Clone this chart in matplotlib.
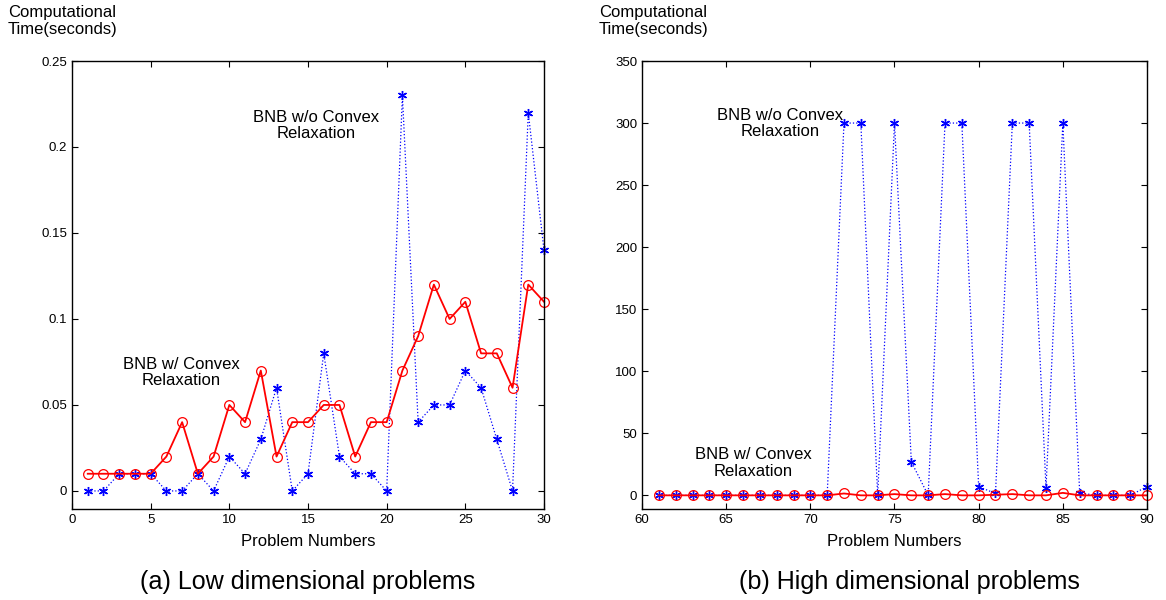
import matplotlib
matplotlib.use("Agg")
import matplotlib.pyplot as plt

plt.rcParams['font.family'] = ['Liberation Sans', 'DejaVu Sans']

# Low dimensional problems
x_low = list(range(1, 31))
with_cr_low = [0.01, 0.01, 0.01, 0.01, 0.01, 0.02, 0.04, 0.01, 0.02, 0.05,
               0.04, 0.07, 0.02, 0.04, 0.04, 0.05, 0.05, 0.02, 0.04, 0.04,
               0.07, 0.09, 0.12, 0.10, 0.11, 0.08, 0.08, 0.06, 0.12, 0.11]
without_cr_low = [0.0, 0.0, 0.01, 0.01, 0.01, 0.0, 0.0, 0.01, 0.0, 0.02,
                  0.01, 0.03, 0.06, 0.0, 0.01, 0.08, 0.02, 0.01, 0.01, 0.0,
                  0.23, 0.04, 0.05, 0.05, 0.07, 0.06, 0.03, 0.0, 0.22, 0.14]

# High dimensional problems
x_high = list(range(61, 91))
with_cr_high = [0, 0, 0, 0, 0, 0, 0, 0, 0, 0,
                0, 1.5, 0, 0, 1, 0, 0, 1, 0, 0,
                0.5, 1, 0, 0, 2, 0, 0, 0, 0, 0]
without_cr_high = [0, 0, 0, 0, 0, 0, 0, 0, 0, 0,
                   0, 300, 300, 0, 300, 27, 0, 300, 300, 7,
                   1.5, 300, 300, 6, 300, 2, 0, 0, 0, 7]

W, H = 1166, 600
fig = plt.figure(figsize=(W / 100, H / 100), dpi=100)

def ax_rect(x0, y0, x1, y1):
    return [x0 / W, 1 - y1 / H, (x1 - x0) / W, (y1 - y0) / H]

ax1 = fig.add_axes(ax_rect(72, 61, 544, 509))
ax2 = fig.add_axes(ax_rect(642, 61, 1147, 509))

star = (6, 2, 0)
for ax, x, wo, w in [(ax1, x_low, without_cr_low, with_cr_low),
                     (ax2, x_high, without_cr_high, with_cr_high)]:
    ax.plot(x, wo, color='blue', linestyle=':', linewidth=0.9,
            marker=star, markersize=6.5, markeredgewidth=1.0, clip_on=False)
    ax.plot(x, w, color='red', linestyle='-', linewidth=1.3,
            marker='o', markersize=7, markerfacecolor='none',
            markeredgewidth=0.9, clip_on=False)
    ax.tick_params(direction='in', top=True, right=True, labelsize=9.5,
                   length=4, width=0.8, pad=3.5)
    for s in ax.spines.values():
        s.set_linewidth(1.0)
    ax.set_xlabel('Problem Numbers', fontsize=12, labelpad=6)

ax1.set_xlim(0, 30)
ax1.set_ylim(-0.0105, 0.25)
ax1.set_xticks([0, 5, 10, 15, 20, 25, 30])
ax1.set_yticks([0, 0.05, 0.1, 0.15, 0.2, 0.25])
ax1.set_yticklabels(['0', '0.05', '0.1', '0.15', '0.2', '0.25'])

ax2.set_xlim(60, 90)
ax2.set_ylim(-11, 350)
ax2.set_xticks([60, 65, 70, 75, 80, 85, 90])
ax2.set_yticks([0, 50, 100, 150, 200, 250, 300, 350])

fs = 12
ax1.text(15.5, 0.2125, 'BNB w/o Convex\nRelaxation', ha='center', va='center', fontsize=fs, linespacing=1.1)
ax1.text(6.93, 0.069, 'BNB w/ Convex\nRelaxation', ha='center', va='center', fontsize=fs, linespacing=1.1)
ax2.text(68.2, 299.6, 'BNB w/o Convex\nRelaxation', ha='center', va='center', fontsize=fs, linespacing=1.1)
ax2.text(66.6, 26, 'BNB w/ Convex\nRelaxation', ha='center', va='center', fontsize=fs, linespacing=1.1)

fig.text(8 / W, 1 - 21 / H, 'Computational\nTime(seconds)', ha='left', va='center', fontsize=fs, linespacing=1.1)
fig.text(599 / W, 1 - 21 / H, 'Computational\nTime(seconds)', ha='left', va='center', fontsize=fs, linespacing=1.1)

fig.text(308 / W, 1 - 582 / H, '(a) Low dimensional problems', ha='center', va='center', fontsize=18.1)
fig.text(909 / W, 1 - 582 / H, '(b) High dimensional problems', ha='center', va='center', fontsize=18.1)

fig.savefig('out.png', dpi=100)
